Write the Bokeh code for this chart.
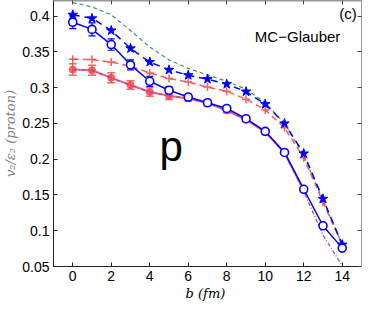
from bokeh.plotting import figure
from bokeh.models import ColumnDataSource, Whisker, TeeHead, LinearAxis, Label, Range1d, FixedTicker
from bokeh.embed import file_html
from bokeh.resources import INLINE

b = [0, 1, 2, 3, 4, 5, 6, 7, 8, 9, 10, 11, 12, 13, 14]

green_dash = [0.419, 0.413, 0.402, 0.380, 0.357, 0.339, 0.327, 0.318, 0.309, 0.298, 0.279, 0.250, 0.205, 0.143, 0.080]
star_dash = [0.402, 0.397, 0.380, 0.355, 0.336, 0.325, 0.3175, 0.312, 0.305, 0.2946, 0.277, 0.250, 0.208, 0.1446, 0.0806]
plus_dash = [0.340, 0.3394, 0.336, 0.330, 0.3207, 0.313, 0.308, 0.301, 0.295, 0.284, 0.269, 0.244, 0.202, 0.140, 0.080]
open_circ = [0.3916, 0.3816, 0.3604, 0.332, 0.309, 0.2965, 0.287, 0.279, 0.271, 0.2567, 0.239, 0.2095, 0.158, 0.107, 0.0757]
open_err = [0.009, 0.009, 0.008, 0.007, 0.007, 0.005, 0.004, 0.003, 0.003, 0.002, 0.002, 0.002, 0.002, 0.002, 0.002]

b_red = [0, 1, 2, 3, 4, 5, 6, 7, 8, 9, 10, 11, 12]
red_circ = [0.3255, 0.3244, 0.3138, 0.3038, 0.294, 0.2887, 0.285, 0.2787, 0.268, 0.2553, 0.238, 0.209, 0.157]
red_err = [0.008, 0.007, 0.007, 0.006, 0.006, 0.005, 0.004, 0.004, 0.003, 0.003, 0.003, 0.002, 0.002]

purple_dd = [0.3255, 0.3244, 0.3138, 0.3038, 0.294, 0.2887, 0.285, 0.2787, 0.268, 0.2553, 0.238, 0.209, 0.155, 0.094, 0.051]

x_ticks = [0, 2, 4, 6, 8, 10, 12, 14]
y_ticks = [0.05, 0.1, 0.15, 0.2, 0.25, 0.3, 0.35, 0.4]

FONT = "Liberation Sans"
BLUE = "#0000ff"
RED = "#ff4a4a"
GREEN = "#3a9a5a"
PURPLE = "#9b40d0"

p = figure(width=366, height=304, output_backend="svg", toolbar_location=None,
           x_range=Range1d(-1, 15), y_range=Range1d(0.05, 0.422),
           min_border_left=46, min_border_right=5, min_border_top=0, min_border_bottom=38)
p.background_fill_color = "white"
p.border_fill_color = "white"
p.grid.visible = False
p.outline_line_color = "#9a9a9a"
p.outline_line_width = 1

for ax in (p.xaxis[0], p.yaxis[0]):
    ax.major_tick_in = 4
    ax.major_tick_out = 0
    ax.minor_tick_line_color = None
    ax.axis_line_color = "#222222"
    ax.major_tick_line_color = "#222222"
    ax.major_label_text_font = FONT
    ax.major_label_text_font_size = "14px"
    ax.major_label_text_color = "black"
    ax.major_label_standoff = 4

p.xaxis[0].ticker = FixedTicker(ticks=x_ticks)
p.yaxis[0].ticker = FixedTicker(ticks=y_ticks)
p.xaxis[0].axis_label = "b  (fm)"
p.xaxis[0].axis_label_text_font = "DejaVu Serif"
p.xaxis[0].axis_label_text_font_style = "italic"
p.xaxis[0].axis_label_text_font_size = "13px"
p.xaxis[0].axis_label_text_color = "black"
p.xaxis[0].axis_label_standoff = 2
p.yaxis[0].axis_label = "v₂/ε₂ (proton)"
p.yaxis[0].axis_label_text_font = "DejaVu Serif"
p.yaxis[0].axis_label_text_font_style = "italic"
p.yaxis[0].axis_label_text_font_size = "13px"
p.yaxis[0].axis_label_text_color = "#808080"
p.yaxis[0].axis_label_standoff = 1

top_ax = LinearAxis(ticker=FixedTicker(ticks=x_ticks), major_label_text_font_size="0px",
                    major_tick_in=4, major_tick_out=0, minor_tick_line_color=None,
                    axis_line_color="#9a9a9a", axis_line_width=2, major_tick_line_color="#444444")
top_ax.major_label_text_color = None
right_ax = LinearAxis(ticker=FixedTicker(ticks=y_ticks), major_label_text_font_size="0px",
                      major_tick_in=4, major_tick_out=0, minor_tick_line_color=None,
                      axis_line_color="#9a9a9a", major_tick_line_color="#444444")
right_ax.major_label_text_color = None
p.add_layout(top_ax, "above")
p.add_layout(right_ax, "right")

# green dashed
p.line(b, green_dash, line_color=GREEN, line_dash="4 3", line_width=1.2)
# red plus dashed
p.line(b, plus_dash, line_color=RED, line_dash="6 4", line_width=1.5, line_alpha=0.9)
p.scatter(b, plus_dash, marker="cross", size=8, line_color=RED, line_width=1.5, line_alpha=0.9)
# blue stars dashed
p.line(b, star_dash, line_color=BLUE, line_dash="7 5", line_width=1.5)
p.scatter(b, star_dash, marker="star", size=10, fill_color=BLUE, line_color=BLUE)

# red filled circles with error bars
src_r = ColumnDataSource(dict(x=b_red, y=red_circ,
                              lo=[v - e for v, e in zip(red_circ, red_err)],
                              hi=[v + e for v, e in zip(red_circ, red_err)]))
p.line("x", "y", source=src_r, line_color=RED, line_width=2, line_alpha=0.85)
p.add_layout(Whisker(source=src_r, base="x", lower="lo", upper="hi", line_color=RED, line_width=1.5,
                     line_alpha=0.85,
                     upper_head=TeeHead(size=8, line_color=RED, line_width=1.5, line_alpha=0.85),
                     lower_head=TeeHead(size=8, line_color=RED, line_width=1.5, line_alpha=0.85)))
p.scatter("x", "y", source=src_r, marker="circle", size=7, fill_color=RED, line_color=RED, alpha=0.85)

# purple dash-dot
p.line(b, purple_dd, line_color=PURPLE, line_dash="4 2 1 2", line_width=1.2)

# blue open circles with error bars
src_o = ColumnDataSource(dict(x=b, y=open_circ,
                              lo=[v - e for v, e in zip(open_circ, open_err)],
                              hi=[v + e for v, e in zip(open_circ, open_err)]))
p.line("x", "y", source=src_o, line_color=BLUE, line_width=1.5)
p.add_layout(Whisker(source=src_o, base="x", lower="lo", upper="hi", line_color=BLUE, line_width=1.2,
                     upper_head=TeeHead(size=7, line_color=BLUE, line_width=1.2),
                     lower_head=TeeHead(size=7, line_color=BLUE, line_width=1.2)))
p.scatter("x", "y", source=src_o, marker="circle", size=8, fill_color="white", line_color=BLUE, line_width=1.6)

p.add_layout(Label(x=4.5, y=0.218, text="p", text_font=FONT, text_font_size="42px",
                   text_color="black", text_baseline="alphabetic"))
p.add_layout(Label(x=14.75, y=0.404, text="(c)", text_font=FONT, text_font_size="15px",
                   text_align="right", text_baseline="middle", text_color="black"))
p.add_layout(Label(x=13.9, y=0.372, text="MC−Glauber", text_font=FONT, text_font_size="15px",
                   text_align="right", text_baseline="middle", text_color="black"))

open("out.html", "w").write(file_html(p, INLINE))
